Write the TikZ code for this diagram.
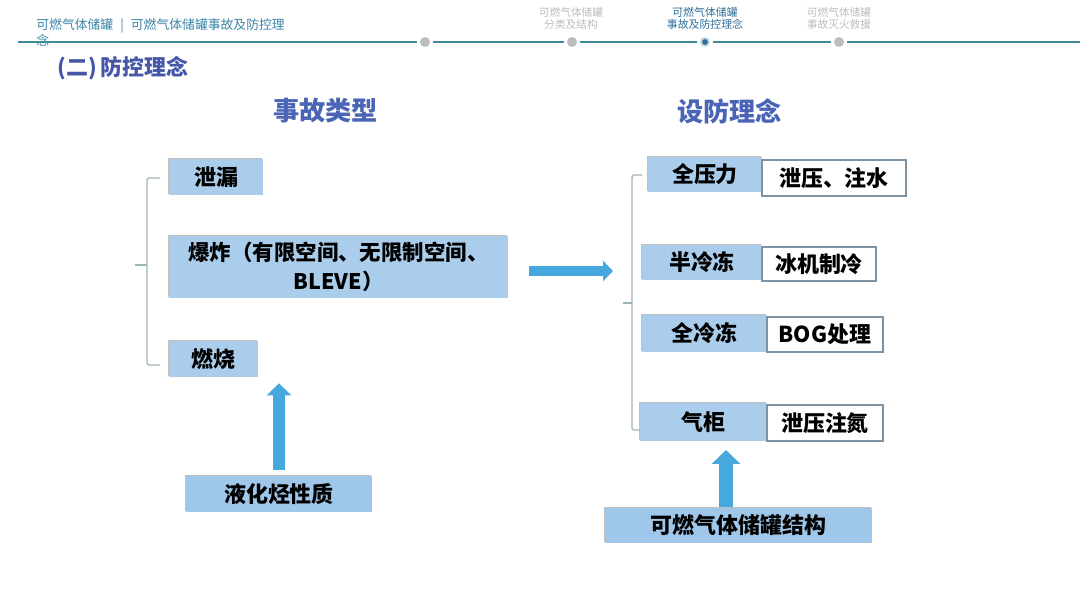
\documentclass[tikz,border=0pt]{standalone}
\usepackage{fontspec}
\setmainfont{Noto Sans CJK SC}
\usetikzlibrary{shadows,arrows.meta,calc}
\definecolor{hdr}{HTML}{3B86A8}
\definecolor{hline}{HTML}{3F8B9C}
\definecolor{navgray}{HTML}{BDBDBD}
\definecolor{navact}{HTML}{2F6F9A}
\definecolor{sect}{HTML}{4657A8}
\definecolor{ttl}{HTML}{4A65B5}
\definecolor{boxblue}{HTML}{AACDEB}
\definecolor{boxblue2}{HTML}{9FC7EA}
\definecolor{arr}{HTML}{46A8DD}
\definecolor{brk}{HTML}{9DB4B8}
\definecolor{wbord}{HTML}{7D93A3}
\begin{document}
\begin{tikzpicture}[x=0.02cm,y=-0.02cm,
  lbox/.style={fill=boxblue, draw=none, inner sep=0pt,
    drop shadow={shadow xshift=-0.7pt, shadow yshift=0.7pt, opacity=0.35, fill=black!70},
    font=\bfseries\fontsize{12.5}{15}\selectfont, text=black},
  bbox/.style={lbox, fill=boxblue2},
  wbox/.style={fill=white, draw=wbord, line width=0.6pt, inner sep=0pt,
    drop shadow={shadow xshift=0.8pt, shadow yshift=-0.8pt, opacity=0.2},
    font=\bfseries\fontsize{12.5}{15}\selectfont, text=black},
  txt/.style={inner sep=0pt},
  gdot/.style={circle, fill=navgray, minimum size=0.2cm, inner sep=0pt, outer sep=0.06cm},
  adot/.style={circle, fill=navact, draw=navact!30, line width=1pt, minimum size=0.16cm, inner sep=0pt, outer sep=0.08cm},
  hl/.style={hline, line width=0.8pt},
  brace/.style={brk, line width=0.7pt, rounded corners=1pt},
  fatarr/.style={arr, line width=#1, -{Triangle[width=2*#1, length=#1]}},
]
\useasboundingbox (0,0) rectangle (1080,608);
\fill[white] (0,0) rectangle (1080,608);

% ---------- header ----------
\node[txt, anchor=west, text=hdr, font=\fontsize{7.3}{9}\selectfont] (h1) at (36,26)
  {可燃气体储罐\hspace{0.55em}|\hspace{0.55em}可燃气体储罐事故及防控理};
\node[txt, anchor=west, text=hdr, font=\fontsize{7.3}{9}\selectfont] (h2) at (36,40) {念};

\coordinate (hs) at (18,42);
\coordinate (he) at (1080,42);
\node[gdot] (d1) at (425,42) {};
\node[gdot] (d2) at (572,42) {};
\node[adot] (d3) at (705,42) {};
\node[gdot] (d4) at (839,42) {};
\draw[hl] (hs) -- (d1);
\draw[hl] (d1) -- (d2);
\draw[hl] (d2) -- (d3);
\draw[hl] (d3) -- (d4);
\draw[hl] (d4) -- (he);

\node[txt, align=center, text=navgray, font=\fontsize{6.1}{7.1}\selectfont] (n1) at (571,18.5)
  {可燃气体储罐\\分类及结构};
\node[txt, align=center, text=navact, font=\fontsize{6.2}{7.1}\selectfont] (n2) at (705,18.5)
  {可燃气体储罐\\事故及防控理念};
\node[txt, align=center, text=navgray, font=\fontsize{6.1}{7.1}\selectfont] (n3) at (839,18.5)
  {可燃气体储罐\\事故灭火救援};

\node[txt, anchor=west, text=sect, font=\bfseries\fontsize{12.5}{15}\selectfont] (sec) at (57,68)
  {(二)\,防控理念};

% ---------- titles ----------
\node[txt, text=ttl, font=\bfseries\fontsize{14.9}{17}\selectfont] (t1) at (325.5,111) {事故类型};
\node[txt, text=ttl, font=\bfseries\fontsize{14.9}{17}\selectfont] (t2) at (729.5,111) {设防理念};

% ---------- left column ----------
\node[lbox, minimum width=1.88cm, minimum height=0.72cm] (leak) at (216,177) {泄漏};
\node[lbox, minimum width=6.78cm, minimum height=1.24cm, align=center,
      font=\bfseries\fontsize{12.2}{16.4}\selectfont] (expl) at (338.5,267)
  {爆炸（有限空间、无限制空间、\\BLEVE）};
\node[lbox, minimum width=1.78cm, minimum height=0.72cm] (burn) at (213.5,359) {燃烧};
\node[bbox, minimum width=3.72cm, minimum height=0.72cm] (lyh) at (279,494) {液化烃性质};

\coordinate (lb1) at (160,178);
\coordinate (lb2) at (147,178);
\coordinate (lb3) at (147,365);
\coordinate (lb4) at (160,365);
\coordinate (lbm) at (147,265);
\coordinate (lbt) at (135,265);
\draw[brace] (lb1) -- (lb2) -- (lb3) -- (lb4);
\draw[brace] (lbm) -- (lbt);

\draw[fatarr=0.24cm] ($(lyh.north)+(0,-6)$) -- ($(lyh.north |- burn.south)+(0,6)$);

% ---------- big arrow ----------
\coordinate (ba1) at (529,271);
\coordinate (ba2) at (613,271);
\draw[fatarr=0.2cm] (ba1) -- (ba2);

% ---------- right column ----------
\node[lbox, minimum width=2.28cm, minimum height=0.70cm] (qyl) at (705,174.5) {全压力};
\node[wbox, minimum width=2.88cm, minimum height=0.72cm] (xy1) at (834,178) {泄压、注水};
\node[lbox, minimum width=2.40cm, minimum height=0.70cm] (bld) at (702,262.5) {半冷冻};
\node[wbox, minimum width=2.28cm, minimum height=0.68cm] (bj) at (819,264) {冰机制冷};
\node[lbox, minimum width=2.50cm, minimum height=0.74cm] (qld) at (704.5,333.5) {全冷冻};
\node[wbox, minimum width=2.32cm, minimum height=0.70cm] (bog) at (825,334.5) {BOG处理};
\node[lbox, minimum width=2.54cm, minimum height=0.76cm] (qg) at (703.5,422) {气柜};
\node[wbox, minimum width=2.32cm, minimum height=0.72cm] (xyzd) at (825,423) {泄压注氮};
\node[bbox, minimum width=5.34cm, minimum height=0.70cm] (jg) at (738.5,525.5) {可燃气体储罐结构};

\coordinate (rb1) at (642,175);
\coordinate (rb2) at (632,175);
\coordinate (rb3) at (632,430);
\coordinate (rb4) at (640,430);
\coordinate (rbm) at (632,303);
\coordinate (rbt) at (623,303);
\draw[brace] (rb1) -- (rb2) -- (rb3) -- (rb4);
\draw[brace] (rbm) -- (rbt);

\coordinate (ra1) at (726,507);
\coordinate (ra2) at (726,450);
\draw[fatarr=0.28cm] (ra1) -- (ra2);
\end{tikzpicture}
\end{document}
